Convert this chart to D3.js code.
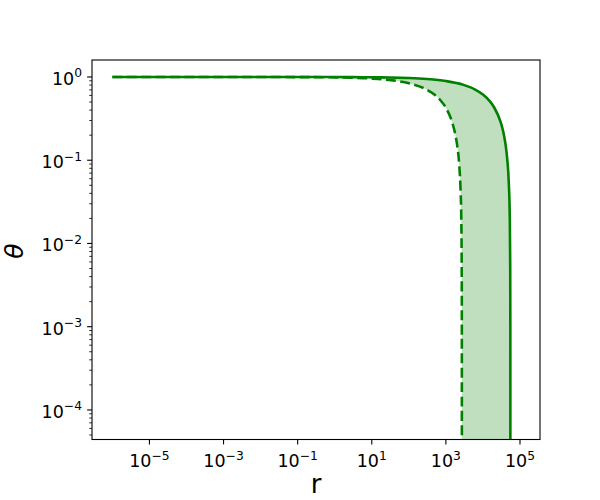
<!DOCTYPE html>
<html>
<head>
<meta charset="utf-8">
<script src="https://cdn.jsdelivr.net/npm/d3@7"></script>
<style>
body { margin: 0; background: #fff; }
text { font-family: "DejaVu Sans", sans-serif; fill: #000; }
</style>
</head>
<body>
<div id="chart"></div>
<script>
// tick exponents
var xTickExp = [-5, -3, -1, 1, 3, 5];
var yTickExp = [0, -1, -2, -3, -4];

// outer curve (solid)
var rSolid = [1e-6, 1e-3, 0.1, 1, 3, 10, 30, 100, 300, 1000, 3000, 6000, 1e4, 1.5e4, 2e4, 3e4, 3.5e4, 4e4, 4.5e4, 5e4, 5.3e4, 5.45e4, 5.49e4, 5.498e4, 5.4999e4];
var thetaSolid = [1.0, 1.0, 0.999, 0.998, 0.996, 0.992, 0.985, 0.971, 0.946, 0.894, 0.804, 0.711, 0.615, 0.517, 0.433, 0.288, 0.224, 0.163, 0.106, 0.052, 0.0206, 0.0051, 0.00102, 0.000204, 0.000011];

// inner curve (dashed)
var rDashed = [1e-6, 1e-3, 0.1, 1, 3, 10, 30, 100, 300, 500, 700, 1000, 1500, 1800, 2000, 2300, 2500, 2600, 2670, 2690, 2698, 2699.5, 2699.95];
var thetaDashed = [1.0, 1.0, 0.997, 0.988, 0.978, 0.957, 0.920, 0.842, 0.708, 0.611, 0.530, 0.427, 0.280, 0.203, 0.155, 0.086, 0.042, 0.021, 0.0062, 0.00207, 0.000415, 0.000104, 0.0000104];

var width = 600;
var height = 500;
var margin = { left: 92, right: 60, top: 60, bottom: 60.5 };

var svg = d3.select("#chart").
append("svg").
attr("width", width).
attr("height", height);

var x = d3.scaleLog().
domain([Math.pow(10, -6.55), Math.pow(10, 5.54)]).
range([margin.left, width - margin.right]);

var y = d3.scaleLog().
domain([Math.pow(10, -4.355), Math.pow(10, 0.204)]).
range([height - margin.bottom, margin.top]);

var solid = rSolid.map(function (r, i) { return [r, thetaSolid[i]]; });
var dashed = rDashed.map(function (r, i) { return [r, thetaDashed[i]]; });

svg.append("clipPath").
attr("id", "clip").
append("rect").
attr("x", margin.left).
attr("y", margin.top).
attr("width", width - margin.left - margin.right).
attr("height", height - margin.top - margin.bottom);

var line = d3.line().
x(function (d) { return x(d[0]); }).
y(function (d) { return y(d[1]); }).
curve(d3.curveMonotoneX);

var plot = svg.append("g").attr("clip-path", "url(#clip)");

// shaded band between the curves, closed below the axes
var below = y.range()[0] + 20;
var back = line(dashed.slice().reverse()).replace(/^M/, "L");
var fillPath = line(solid) +
"L" + x(rSolid[rSolid.length - 1]) + "," + below +
"L" + x(rDashed[rDashed.length - 1]) + "," + below +
back + "Z";

plot.append("path").
attr("d", fillPath).
attr("fill", "green").
attr("fill-opacity", 0.25).
attr("stroke", "none");

plot.append("path").
attr("d", line(solid)).
attr("fill", "none").
attr("stroke", "green").
attr("stroke-width", 2.6);

plot.append("path").
attr("d", line(dashed)).
attr("fill", "none").
attr("stroke", "green").
attr("stroke-width", 2.6).
attr("stroke-dasharray", "10,4.4");

// frame
svg.append("rect").
attr("x", margin.left).
attr("y", margin.top).
attr("width", width - margin.left - margin.right).
attr("height", height - margin.top - margin.bottom).
attr("fill", "none").
attr("stroke", "#000").
attr("stroke-width", 1.1);

var bottom = height - margin.bottom;

function expLabel(t, e) {
  t.append("tspan").text("10");
  t.append("tspan").
  attr("dy", -7.5).
  attr("font-size", 12.3).
  text(e < 0 ? "\u2212" + (-e) : String(e));
}

// x ticks
var xt = svg.append("g");
xTickExp.forEach(function (e) {
  var px = x(Math.pow(10, e));
  xt.append("line").
  attr("x1", px).attr("x2", px).
  attr("y1", bottom).attr("y2", bottom + 4.9).
  attr("stroke", "#000").attr("stroke-width", 1.1);
  var t = xt.append("text").
  attr("x", px).
  attr("y", bottom + 27.5).
  attr("text-anchor", "middle").
  attr("font-size", 17.5);
  expLabel(t, e);
});

// y ticks, major and minor
var yt = svg.append("g");
yTickExp.forEach(function (e) {
  var py = y(Math.pow(10, e));
  yt.append("line").
  attr("x1", margin.left - 4.9).attr("x2", margin.left).
  attr("y1", py).attr("y2", py).
  attr("stroke", "#000").attr("stroke-width", 1.1);
  var t = yt.append("text").
  attr("x", margin.left - 10).
  attr("y", py + 8).
  attr("text-anchor", "end").
  attr("font-size", 17.5);
  expLabel(t, e);
});
for (var e = -5; e <= 0; e++) {
  for (var k = 2; k <= 9; k++) {
    var v = k * Math.pow(10, e);
    if (v < y.domain()[0] || v > y.domain()[1]) continue;
    var py = y(v);
    yt.append("line").
    attr("x1", margin.left - 2.8).attr("x2", margin.left).
    attr("y1", py).attr("y2", py).
    attr("stroke", "#000").attr("stroke-width", 0.8);
  }
}

// axis titles
svg.append("text").
attr("x", (margin.left + width - margin.right) / 2).
attr("y", 493).
attr("text-anchor", "middle").
attr("font-size", 26).
text("r");

svg.append("text").
attr("transform", "translate(23, 251) rotate(-90)").
attr("text-anchor", "middle").
attr("font-size", 25).
attr("font-style", "italic").
text("\u03b8");
</script>
</body>
</html>
